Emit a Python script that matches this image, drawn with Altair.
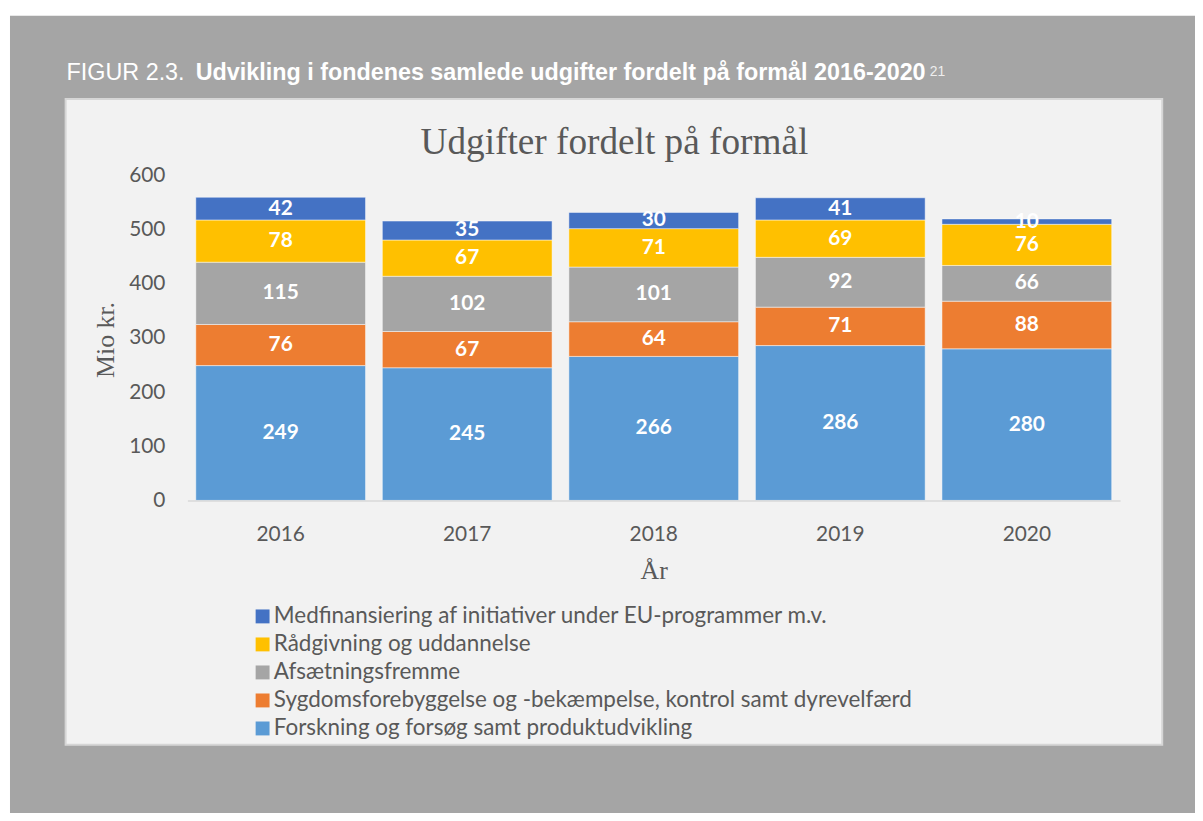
import altair as alt
import pandas as pd

# ---------------- data ----------------
years = ["2016", "2017", "2018", "2019", "2020"]
categories = [
    "Forskning og forsøg samt produktudvikling",
    "Sygdomsforebyggelse og -bekæmpelse, kontrol samt dyrevelfærd",
    "Afsætningsfremme",
    "Rådgivning og uddannelse",
    "Medfinansiering af initiativer under EU-programmer m.v.",
]
forskning = [249, 245, 266, 286, 280]
sygdom = [76, 67, 64, 71, 88]
afsaetning = [115, 102, 101, 92, 66]
raadgivning = [78, 67, 71, 69, 76]
medfinansiering = [42, 35, 30, 41, 10]
series = [forskning, sygdom, afsaetning, raadgivning, medfinansiering]
colors = ["#5B9BD5", "#ED7D31", "#A5A5A5", "#FFC000", "#4472C4"]
y_ticks = [0, 100, 200, 300, 400, 500, 600]

rows = []
for ci, (cat, vals) in enumerate(zip(categories, series)):
    for yr, v in zip(years, vals):
        rows.append({"year": yr, "category": cat, "value": v, "order": ci})
df = pd.DataFrame(rows)

# ---------------- layout (page pixels) ----------------
PLOT_LEFT = 188.6
PLOT_TOP = 174.0
W, H = 939, 327
TOTAL_W, TOTAL_H = 1195, 805
pad = {"left": PLOT_LEFT - 8, "top": PLOT_TOP - 8,
       "right": TOTAL_W - (PLOT_LEFT - 8) - W,
       "bottom": TOTAL_H - (PLOT_TOP - 8) - H}


def px(x):
    return x - PLOT_LEFT


def py(y):
    return y - PLOT_TOP


GREY_TXT = "#595959"
SANS = "Lato"
SERIF = "Liberation Serif"

one = pd.DataFrame({"k": [0]})

bg = alt.Chart(one).mark_rect(color="#a5a5a5").encode(
    x=alt.value(px(10)), x2=alt.value(px(1203)),
    y=alt.value(py(13)), y2=alt.value(py(821)))

panel = alt.Chart(one).mark_rect(fill="#f2f2f2", stroke="#d6d6d6", strokeWidth=2).encode(
    x=alt.value(px(66)), x2=alt.value(px(1170)),
    y=alt.value(py(97)), y2=alt.value(py(747)))

x_axis = alt.Axis(labelFont=SANS, labelFontSize=21, labelColor=GREY_TXT, labelAngle=0,
                  labelPadding=40, labelBaseline="alphabetic", ticks=False, tickSize=0,
                  domain=True, domainColor="#d9d9d9", domainWidth=1.5, grid=False,
                  titleFont=SERIF, titleFontSize=26, titleFontWeight="normal",
                  titleColor=GREY_TXT, titleBaseline="alphabetic",
                  titleX=W / 2, titleY=580 - (PLOT_TOP + H), zindex=1)
y_axis = alt.Axis(values=y_ticks, labelFont=SANS, labelFontSize=21, labelColor=GREY_TXT,
                  labelPadding=22.6, ticks=False, tickSize=0, domain=False, grid=False,
                  titleFont=SERIF, titleFontSize=26, titleFontWeight="normal",
                  titleColor=GREY_TXT, titleAngle=270, titleBaseline="alphabetic",
                  titleAlign="center", titleX=px(114), titleY=py(339), zindex=1)

x_scale = alt.Scale(paddingInner=0.09, paddingOuter=0.045)
y_scale = alt.Scale(domain=[0, 600], nice=False)

legend_domain = list(reversed(categories))
legend_range = list(reversed(colors))

base = alt.Chart(df).transform_stack(
    stack="value", groupby=["year"], as_=["y0", "y1"],
    sort=[alt.SortField("order", order="ascending")]
)

bars = base.mark_bar(stroke="white", strokeWidth=0.8, strokeOpacity=0.6).encode(
    x=alt.X("year:N", scale=x_scale, axis=x_axis, title="År"),
    y=alt.Y("y0:Q", scale=y_scale, axis=y_axis, title="Mio kr."),
    y2="y1:Q",
    color=alt.Color("category:N",
                    scale=alt.Scale(domain=legend_domain, range=legend_range),
                    legend=alt.Legend(title=None, orient="none",
                                      legendX=px(253), legendY=py(606.5),
                                      direction="vertical", symbolType="square",
                                      symbolSize=196, symbolStrokeWidth=0,
                                      labelFont=SANS, labelFontSize=22.6,
                                      labelColor=GREY_TXT, labelLimit=900,
                                      labelOffset=0, rowPadding=5.2, padding=0,
                                      zindex=1)),
)

labels = base.transform_calculate(mid="(datum.y0 + datum.y1) / 2").mark_text(
    color="white", font=SANS, fontWeight="bold", fontSize=21, baseline="middle"
).encode(
    x=alt.X("year:N", scale=x_scale, axis=x_axis, title="År"),
    y=alt.Y("mid:Q", scale=y_scale, axis=y_axis, title="Mio kr."),
    text="value:Q",
)


def text_layer(txt, x, y, size, font, color, weight="normal", align="left"):
    return alt.Chart(pd.DataFrame({"t": [txt]})).mark_text(
        font=font, fontSize=size, fontWeight=weight, color=color,
        align=align, baseline="alphabetic"
    ).encode(text="t:N", x=alt.value(px(x)), y=alt.value(py(y)))


cap1 = text_layer("FIGUR 2.3.", 67, 78, 23.5, "Liberation Sans", "white")
cap2 = text_layer("Udvikling i fondenes samlede udgifter fordelt på formål 2016-2020",
                  197, 78, 23.5, "Liberation Sans", "white", weight="bold")
cap3 = text_layer("21", 936, 74, 14, "Liberation Sans", "#eeeeee")
title = text_layer("Udgifter fordelt på formål", 618.5, 152, 37.5, SERIF, GREY_TXT,
                   align="center")

chart = alt.layer(bg, panel, bars, labels, cap1, cap2, cap3, title).properties(
    width=W, height=H, padding=pad,
    autosize=alt.AutoSizeParams(type="none"),
    background="white",
).configure_view(stroke=None)

chart.save("out.html", embed_options={"renderer": "svg", "actions": False})
